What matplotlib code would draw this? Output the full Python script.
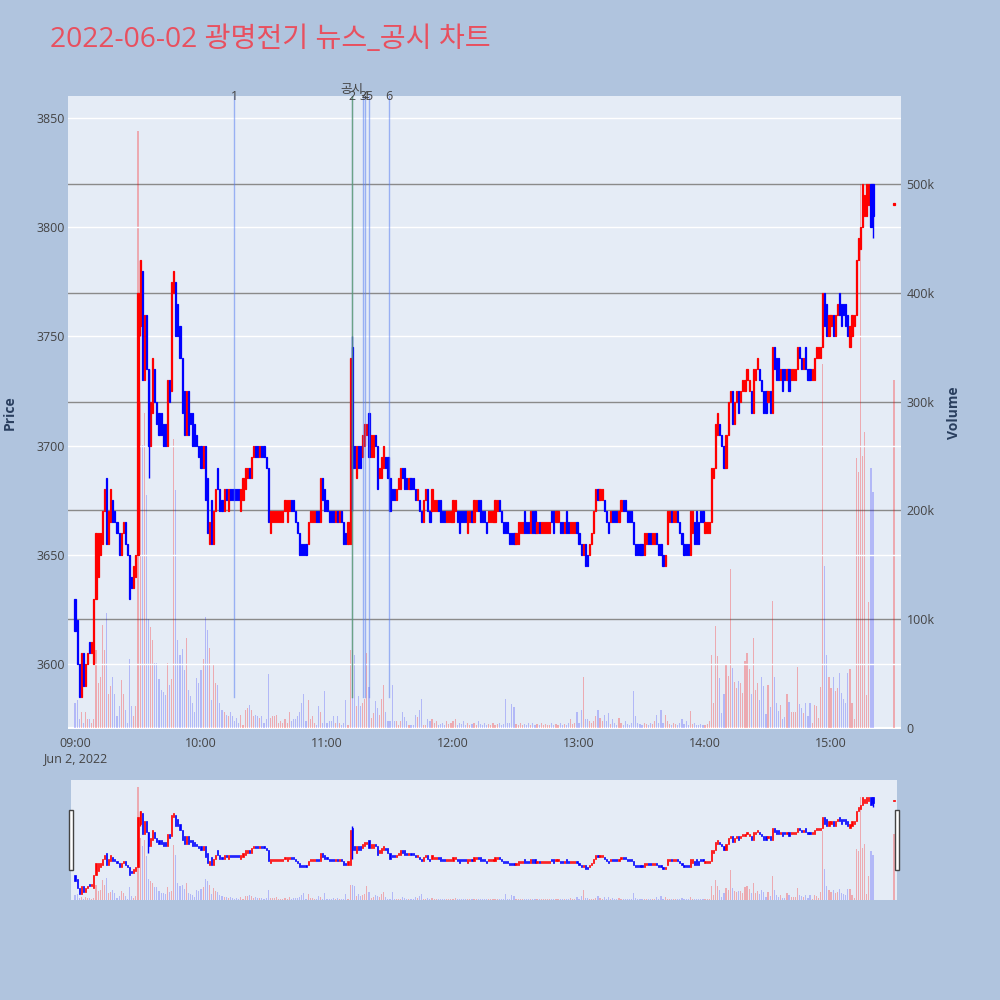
import matplotlib
matplotlib.use("Agg")
import matplotlib.pyplot as plt
import matplotlib.transforms as mtransforms
from matplotlib.patches import Rectangle
import numpy as np

plt.rcParams['font.family'] = ['Open Sans', 'Noto Sans CJK KR', 'DejaVu Sans']

# ---------------- data ----------------
title = "2022-06-02 광명전기 뉴스_공시 차트"
tick_minutes = [0, 60, 120, 180, 240, 300, 360]          # minutes after 09:00
tick_labels = ["09:00", "10:00", "11:00", "12:00", "13:00", "14:00", "15:00"]
date_label = "Jun 2, 2022"
price_ticks = [3600, 3650, 3700, 3750, 3800, 3850]
volume_ticks_k = [0, 100, 200, 300, 400, 500]
volume_tick_labels = ["0", "100k", "200k", "300k", "400k", "500k"]

# one-minute candles from 09:00 (minute 0) to 15:20 (minute 380)
opens = [
    3630, 3620, 3600, 3585, 3605, 3590, 3600, 3610, 3605, 3600,
    3630, 3640, 3650, 3655, 3670, 3685, 3655, 3665, 3675, 3670,
    3665, 3660, 3650, 3660, 3665, 3655, 3650, 3640, 3635, 3640,
    3650, 3755, 3780, 3730, 3760, 3735, 3700, 3715, 3735, 3720,
    3715, 3715, 3710, 3710, 3700, 3730, 3725, 3770, 3775, 3765,
    3755, 3740, 3725, 3705, 3725, 3715, 3715, 3710, 3705, 3700,
    3700, 3690, 3700, 3685, 3655, 3675, 3655, 3670, 3690, 3680,
    3675, 3670, 3680, 3670, 3680, 3680, 3680, 3680, 3680, 3670,
    3675, 3680, 3685, 3690, 3685, 3695, 3700, 3700, 3695, 3700,
    3700, 3695, 3690, 3660, 3665, 3665, 3665, 3665, 3665, 3665,
    3670, 3665, 3670, 3675, 3675, 3670, 3665, 3660, 3655, 3655,
    3655, 3655, 3665, 3665, 3665, 3670, 3670, 3665, 3685, 3680,
    3675, 3670, 3670, 3670, 3665, 3670, 3665, 3670, 3665, 3660,
    3655, 3655, 3745, 3700, 3685, 3700, 3700, 3695, 3700, 3705,
    3715, 3695, 3695, 3705, 3700, 3685, 3685, 3690, 3695, 3695,
    3685, 3680, 3680, 3675, 3680, 3680, 3690, 3690, 3685, 3680,
    3685, 3685, 3680, 3675, 3675, 3670, 3665, 3675, 3680, 3670,
    3670, 3670, 3670, 3675, 3675, 3670, 3670, 3665, 3665, 3665,
    3665, 3670, 3670, 3670, 3670, 3670, 3670, 3660, 3665, 3670,
    3665, 3670, 3675, 3675, 3670, 3670, 3665, 3665, 3665, 3665,
    3665, 3670, 3675, 3670, 3665, 3665, 3665, 3660, 3660, 3660,
    3655, 3655, 3660, 3660, 3670, 3665, 3665, 3660, 3670, 3670,
    3660, 3665, 3660, 3660, 3660, 3660, 3660, 3670, 3670, 3665,
    3665, 3665, 3665, 3660, 3670, 3665, 3660, 3660, 3660, 3665,
    3660, 3655, 3650, 3655, 3650, 3650, 3655, 3660, 3670, 3680,
    3675, 3675, 3675, 3670, 3665, 3665, 3670, 3670, 3670, 3665,
    3670, 3675, 3675, 3670, 3670, 3670, 3665, 3655, 3655, 3655,
    3655, 3650, 3655, 3660, 3660, 3655, 3655, 3660, 3655, 3655,
    3650, 3645, 3655, 3665, 3670, 3665, 3665, 3670, 3665, 3660,
    3655, 3655, 3655, 3650, 3660, 3665, 3670, 3665, 3670, 3670,
    3660, 3660, 3660, 3665, 3685, 3690, 3705, 3710, 3705, 3700,
    3690, 3705, 3720, 3725, 3710, 3720, 3725, 3720, 3725, 3725,
    3730, 3725, 3725, 3715, 3730, 3735, 3735, 3730, 3725, 3725,
    3720, 3725, 3715, 3745, 3740, 3740, 3730, 3735, 3735, 3730,
    3735, 3730, 3730, 3730, 3735, 3745, 3740, 3735, 3745, 3735,
    3735, 3730, 3730, 3740, 3740, 3740, 3745, 3770, 3765, 3750,
    3755, 3760, 3750, 3760, 3770, 3765, 3765, 3765, 3760, 3745,
    3750, 3755, 3760, 3785, 3790, 3800, 3805, 3805, 3810, 3820, 3820,
]
closes = [
    3615, 3600, 3585, 3605, 3590, 3600, 3605, 3605, 3610, 3630,
    3660, 3660, 3660, 3670, 3680, 3655, 3670, 3680, 3665, 3665,
    3660, 3650, 3660, 3665, 3655, 3650, 3630, 3635, 3645, 3650,
    3770, 3785, 3730, 3760, 3735, 3700, 3720, 3740, 3720, 3710,
    3705, 3705, 3700, 3700, 3730, 3720, 3775, 3780, 3750, 3750,
    3740, 3715, 3705, 3725, 3705, 3710, 3700, 3700, 3700, 3695,
    3690, 3700, 3675, 3660, 3665, 3655, 3670, 3680, 3680, 3670,
    3670, 3680, 3675, 3680, 3675, 3675, 3675, 3675, 3675, 3680,
    3685, 3690, 3690, 3685, 3695, 3700, 3695, 3695, 3700, 3695,
    3695, 3690, 3665, 3670, 3670, 3670, 3670, 3670, 3670, 3670,
    3675, 3675, 3675, 3670, 3670, 3665, 3660, 3650, 3650, 3650,
    3650, 3665, 3670, 3670, 3670, 3665, 3665, 3685, 3675, 3670,
    3670, 3665, 3665, 3665, 3670, 3665, 3670, 3665, 3655, 3655,
    3665, 3740, 3690, 3690, 3700, 3690, 3690, 3705, 3710, 3710,
    3695, 3705, 3705, 3700, 3680, 3690, 3695, 3700, 3690, 3685,
    3670, 3675, 3675, 3680, 3685, 3690, 3685, 3680, 3680, 3685,
    3680, 3680, 3675, 3680, 3670, 3665, 3675, 3680, 3670, 3665,
    3680, 3675, 3675, 3670, 3665, 3665, 3665, 3670, 3670, 3670,
    3675, 3675, 3665, 3660, 3665, 3665, 3665, 3670, 3670, 3665,
    3675, 3675, 3670, 3665, 3665, 3665, 3660, 3670, 3670, 3670,
    3675, 3675, 3670, 3665, 3660, 3660, 3660, 3655, 3655, 3655,
    3660, 3665, 3665, 3665, 3660, 3660, 3660, 3670, 3660, 3660,
    3665, 3660, 3665, 3665, 3665, 3665, 3665, 3665, 3660, 3670,
    3670, 3660, 3660, 3665, 3660, 3660, 3665, 3665, 3665, 3660,
    3655, 3650, 3655, 3645, 3645, 3655, 3660, 3670, 3680, 3675,
    3680, 3680, 3670, 3665, 3660, 3670, 3665, 3665, 3665, 3670,
    3675, 3670, 3670, 3665, 3665, 3665, 3655, 3650, 3650, 3650,
    3650, 3660, 3660, 3655, 3655, 3660, 3660, 3655, 3650, 3650,
    3645, 3650, 3670, 3670, 3665, 3670, 3670, 3665, 3660, 3655,
    3650, 3650, 3650, 3670, 3670, 3655, 3655, 3655, 3665, 3665,
    3665, 3665, 3665, 3690, 3690, 3710, 3715, 3705, 3700, 3690,
    3705, 3720, 3725, 3710, 3720, 3725, 3715, 3725, 3730, 3730,
    3735, 3730, 3715, 3735, 3735, 3740, 3730, 3725, 3715, 3715,
    3725, 3715, 3745, 3735, 3730, 3730, 3735, 3725, 3730, 3735,
    3725, 3735, 3735, 3735, 3745, 3740, 3735, 3740, 3735, 3730,
    3730, 3735, 3740, 3745, 3745, 3745, 3770, 3755, 3750, 3760,
    3760, 3750, 3760, 3765, 3760, 3755, 3760, 3755, 3750, 3755,
    3760, 3760, 3785, 3795, 3800, 3820, 3815, 3820, 3820, 3800, 3805,
]
volumes_k = [
    23, 26, 8, 15, 5, 15, 8, 8, 5, 8,
    72, 41, 47, 95, 72, 106, 31, 39, 47, 31,
    11, 20, 44, 31, 17, 5, 63, 20, 11, 20,
    549, 300, 260, 290, 214, 100, 93, 81, 60, 60,
    45, 35, 33, 30, 60, 40, 45, 266, 219, 81,
    67, 73, 53, 83, 35, 29, 23, 15, 46, 41,
    53, 63, 102, 90, 74, 26, 58, 41, 40, 23,
    17, 15, 12, 11, 15, 11, 6, 9, 5, 12,
    3, 17, 18, 21, 17, 11, 12, 11, 9, 11,
    5, 8, 50, 9, 11, 11, 12, 5, 6, 5,
    8, 5, 15, 6, 8, 8, 11, 15, 23, 31,
    6, 26, 8, 11, 5, 3, 20, 15, 5, 34,
    5, 6, 6, 11, 5, 11, 5, 3, 5, 26,
    3, 72, 72, 67, 20, 29, 20, 23, 27, 69,
    38, 9, 14, 25, 18, 12, 27, 40, 15, 6,
    6, 40, 6, 6, 3, 6, 15, 10, 6, 3,
    3, 3, 12, 10, 17, 27, 3, 3, 8, 6,
    8, 5, 6, 3, 4, 5, 3, 6, 4, 5,
    6, 8, 3, 5, 4, 6, 3, 5, 3, 4,
    5, 3, 6, 4, 3, 5, 3, 4, 3, 5,
    3, 4, 5, 3, 4, 27, 5, 5, 22, 19,
    4, 3, 5, 3, 4, 3, 5, 3, 5, 3,
    4, 3, 5, 3, 4, 3, 3, 5, 3, 4,
    3, 5, 3, 4, 3, 5, 8, 4, 5, 15,
    5, 17, 47, 8, 8, 6, 5, 6, 11, 17,
    9, 6, 12, 6, 14, 4, 8, 5, 3, 9,
    5, 3, 6, 4, 3, 5, 34, 11, 5, 4,
    3, 5, 4, 3, 5, 4, 6, 12, 5, 17,
    5, 12, 6, 4, 3, 5, 4, 3, 5, 8,
    4, 6, 3, 16, 4, 5, 3, 3, 4, 3,
    3, 4, 6, 67, 23, 94, 66, 46, 14, 31,
    59, 48, 146, 55, 42, 37, 43, 41, 32, 62,
    69, 54, 31, 83, 35, 41, 26, 47, 39, 13,
    40, 19, 117, 47, 23, 16, 21, 8, 10, 31,
    24, 15, 15, 15, 56, 22, 18, 14, 23, 11,
    23, 5, 21, 20, 9, 38, 335, 149, 67, 47,
    37, 47, 34, 37, 51, 32, 27, 23, 51, 54,
    23, 8, 248, 235, 500, 250, 272, 30, 116, 239, 217,
]
# closing auction print at 15:30
auction_minute = 390
auction_price = 3810
auction_volume_k = 320

# candles with visible wicks
wick_minutes = [31, 35, 132, 380]
wick_highs = [3785, 3735, 3750, 3820]
wick_lows = [3750, 3685, 3670, 3795]

# news / disclosure markers (minutes after 09:00)
event_labels = ["1", "2", "3", "4", "5", "6"]
event_minutes = [75.7, 131.9, 137.3, 138.3, 139.9, 149.4]
disclosure_label = "공시"
disclosure_minute = 131.7

# ---------------- style ----------------
FIG_BG = "#b0c4de"
PLOT_BG = "#e5ecf6"
UP = "#ff0000"
DOWN = "#0000ff"
TICK_C = "#444444"
FS = 9

n = min(len(opens), len(closes), len(volumes_k))
m = np.arange(n)
o = np.array(opens[:n], float)
c = np.array(closes[:n], float)
v = np.array(volumes_k[:n], float)
up = c > o
col = np.where(up, UP, DOWN)
lo = np.minimum(o, c)
hi = np.maximum(o, c)
body = np.maximum(hi - lo, 0.9)

XLIM = (-3.33, 393.3)
PLIM = (3570.3, 3860.1)
VLIM = (-0.9, 580.9)

fig = plt.figure(figsize=(10, 10), dpi=100, facecolor=FIG_BG)


def draw_panel(rect, xlim, main=True):
    axp = fig.add_axes(rect)
    axv = axp.twinx()
    axv.set_zorder(1)
    axp.set_zorder(2)
    axp.patch.set_visible(False)
    axv.patch.set_visible(True)
    axv.patch.set_facecolor(PLOT_BG)
    for a in (axp, axv):
        for s in a.spines.values():
            s.set_visible(False)
        a.set_xlim(*xlim)
    axp.set_ylim(*PLIM)
    axv.set_ylim(*VLIM)

    # volume bars
    vcol = [(1, 0, 0, 0.28) if u else (0, 0, 1, 0.22) for u in up]
    axv.bar(m, v, width=0.55, color=vcol, linewidth=0)
    axv.bar([auction_minute], [auction_volume_k], width=0.55,
            color=[(1, 0, 0, 0.28)], linewidth=0)

    # candles
    lw = 0.9 if main else 0.5
    axp.bar(m, body, bottom=lo, width=0.55, color=col, edgecolor=col,
            linewidth=lw, zorder=3)
    wc = [UP if up[i] else DOWN for i in wick_minutes]
    axp.vlines(wick_minutes, wick_lows, wick_highs, colors=wc,
               linewidth=1.0, zorder=3)
    axp.bar([auction_minute], [0.9], bottom=[auction_price], width=0.55,
            color=UP, edgecolor=UP, linewidth=lw, zorder=3)
    return axp, axv


# ---------------- main panel ----------------
ax, axv = draw_panel([0.068, 0.271, 0.833, 0.633], XLIM, main=True)

ax.set_yticks(price_ticks)
ax.set_yticklabels([str(p) for p in price_ticks])
ax.grid(axis='y', color='white', linewidth=1.0, zorder=0)
ax.set_axisbelow(True)
ax.tick_params(axis='y', length=0, pad=2, labelsize=FS, labelcolor=TICK_C)
ax.set_xticks(tick_minutes)
ax.set_xticklabels(tick_labels)
ax.tick_params(axis='x', length=0, pad=6, labelsize=FS, labelcolor=TICK_C)

axv.set_yticks(volume_ticks_k)
axv.set_yticklabels(volume_tick_labels)
axv.tick_params(axis='y', length=0, pad=4, labelsize=FS, labelcolor=TICK_C)
axv.tick_params(axis='x', bottom=False, labelbottom=False)
for t in volume_ticks_k[1:]:
    axv.axhline(t, color='#8a8a8a', linewidth=1.0, zorder=0.5)
axv.axhline(0, color='white', linewidth=1.6, zorder=0.5)

blend = mtransforms.blended_transform_factory(ax.transData, ax.transAxes)
ax.text(0, -0.046, date_label, transform=blend, ha='center', va='center',
        fontsize=FS, color=TICK_C)

# event markers
for lab, xm in zip(event_labels, event_minutes):
    ax.axvline(xm, ymin=0.05, ymax=1.0, color=(0.35, 0.5, 0.95, 0.55),
               linewidth=1.0, zorder=4)
    ax.text(xm, 1.0, lab, transform=blend, ha='center', va='center',
            fontsize=FS, color=TICK_C, zorder=5, clip_on=False)
ax.axvline(disclosure_minute, ymin=0.05, ymax=1.0,
           color=(0.35, 0.62, 0.35, 0.7), linewidth=1.0, zorder=4)
ax.text(disclosure_minute, 1.010, disclosure_label, transform=blend,
        ha='center', va='center', fontsize=FS, color=TICK_C, zorder=5,
        clip_on=False)

# ---------------- range slider ----------------
sx_left = -1.9
sx_right = 391.4
sp, sv = draw_panel([0.071, 0.100, 0.826, 0.120], (sx_left, sx_right), main=False)
for a in (sp, sv):
    a.set_xticks([])
    a.set_yticks([])

for hx in (0.0685, 0.8945):
    fig.patches.append(Rectangle((hx, 0.130), 0.0045, 0.060,
                                 transform=fig.transFigure, facecolor='white',
                                 edgecolor='#444444', linewidth=1.0))

# ---------------- titles ----------------
fig.text(0.05, 0.960, title, fontsize=20.3, color='#e8505f', ha='left',
         va='center', family=['Open Sans', 'Noto Sans CJK KR', 'DejaVu Sans'])
fig.text(0.010, 0.587, "Price", rotation=90, ha='center', va='center',
         fontsize=10, fontweight='bold', color='#2a3f5f')
fig.text(0.954, 0.587, "Volume", rotation=90, ha='center', va='center',
         fontsize=10, fontweight='bold', color='#2a3f5f')

fig.savefig("out.png", dpi=100, facecolor=FIG_BG)
